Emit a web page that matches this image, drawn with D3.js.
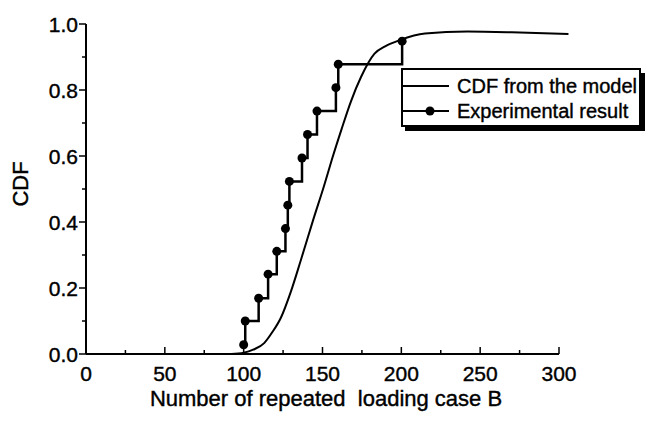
<!DOCTYPE html>
<html>
<head>
<meta charset="utf-8">
<script src="https://cdn.jsdelivr.net/npm/d3@7"></script>
<style>
  body { margin: 0; background: #fff; }
  text { font-family: "Liberation Sans", Arial, sans-serif; fill: #000; stroke: #000; stroke-width: 0.4px; }
</style>
</head>
<body>
<script>
const width = 645;
const height = 423;

// experimental result (step CDF)
const expX = [100, 101, 109.5, 115.5, 121, 126.5, 128, 129, 137, 140.5, 146.5, 158.5, 160, 200.5];
const expY = [0.028, 0.100, 0.169, 0.242, 0.311, 0.380, 0.451, 0.523, 0.594, 0.665, 0.736, 0.807, 0.878, 0.948];

// CDF from the model
const modelX = [92, 100, 106, 113, 118, 123.6, 130, 136.3, 144, 151, 156, 162, 168, 174.5, 183, 190, 199, 215, 242, 270, 306];
const modelY = [0, 0.004, 0.013, 0.033, 0.065, 0.11, 0.19, 0.285, 0.405, 0.51, 0.59, 0.68, 0.765, 0.84, 0.91, 0.933, 0.951, 0.971, 0.977, 0.975, 0.97];

const xTicks = [0, 50, 100, 150, 200, 250, 300];
const yTicks = [0, 0.2, 0.4, 0.6, 0.8, 1.0];
const legendLabels = ['CDF from the model', 'Experimental result'];

const svg = d3.select('body').append('svg').attr('width', width).attr('height', height);

const x = d3.scaleLinear().domain([0, 300]).range([86, 559]);
const y = d3.scaleLinear().domain([0, 1]).range([354, 24]);

// axes
const xAxis = svg.append('g').attr('transform', `translate(0,${y(0)})`);
xAxis.append('line').attr('x1', x(0)).attr('x2', x(300)).attr('stroke', '#000').attr('stroke-width', 2);
xAxis.selectAll('.minor').data(d3.range(25, 300, 50)).enter().append('line')
    .attr('x1', d => x(d)).attr('x2', d => x(d)).attr('y1', 0).attr('y2', -4)
    .attr('stroke', '#000').attr('stroke-width', 1.5);
xAxis.selectAll('.major').data(xTicks).enter().append('line')
    .attr('x1', d => x(d)).attr('x2', d => x(d)).attr('y1', 0).attr('y2', -7)
    .attr('stroke', '#000').attr('stroke-width', 1.5);
xAxis.selectAll('text').data(xTicks).enter().append('text')
    .attr('x', d => x(d)).attr('y', 27)
    .attr('text-anchor', 'middle').attr('font-size', 21)
    .text(d => d);

const yAxis = svg.append('g').attr('transform', `translate(${x(0)},0)`);
yAxis.append('line').attr('y1', y(0)).attr('y2', y(1)).attr('stroke', '#000').attr('stroke-width', 2);
yAxis.selectAll('.minor').data(d3.range(0.1, 1, 0.2)).enter().append('line')
    .attr('y1', d => y(d)).attr('y2', d => y(d)).attr('x1', 0).attr('x2', -4)
    .attr('stroke', '#000').attr('stroke-width', 1.5);
yAxis.selectAll('.major').data(yTicks).enter().append('line')
    .attr('y1', d => y(d)).attr('y2', d => y(d)).attr('x1', 0).attr('x2', -7)
    .attr('stroke', '#000').attr('stroke-width', 1.5);
yAxis.selectAll('text').data(yTicks).enter().append('text')
    .attr('x', -8).attr('y', d => y(d)).attr('dy', '0.36em')
    .attr('text-anchor', 'end').attr('font-size', 21)
    .text(d => d3.format('.1f')(d));

// axis titles
svg.append('text')
    .attr('transform', 'translate(28,184) rotate(-90)')
    .attr('text-anchor', 'middle').attr('font-size', 22)
    .text('CDF');

svg.append('text')
    .attr('x', 326).attr('y', 406)
    .attr('text-anchor', 'middle').attr('font-size', 22)
    .style('white-space', 'pre')
    .text('Number of repeated  loading case B');

// model curve
const model = modelX.map((d, i) => [d, modelY[i]]);
svg.append('path')
    .datum(model)
    .attr('fill', 'none').attr('stroke', '#000').attr('stroke-width', 2)
    .attr('d', d3.line().x(d => x(d[0])).y(d => y(d[1])).curve(d3.curveMonotoneX));

// experimental steps
const exp = expX.map((d, i) => [d, expY[i]]);
svg.append('path')
    .datum(exp)
    .attr('fill', 'none').attr('stroke', '#000').attr('stroke-width', 2.5)
    .attr('d', d3.line().x(d => x(d[0])).y(d => y(d[1])).curve(d3.curveStepAfter));
svg.selectAll('.pt').data(exp).enter().append('circle')
    .attr('cx', d => x(d[0])).attr('cy', d => y(d[1])).attr('r', 4.5)
    .attr('fill', '#000');

// legend
const legend = svg.append('g').attr('transform', 'translate(402,69)');
legend.append('rect').attr('x', 3).attr('y', 4).attr('width', 240).attr('height', 58).attr('fill', '#000');
legend.append('rect').attr('width', 238).attr('height', 57)
    .attr('fill', '#fff').attr('stroke', '#000').attr('stroke-width', 2);
legendLabels.forEach((label, i) => {
    const ly = 17 + i * 25;
    legend.append('line').attr('x1', 0).attr('x2', 47).attr('y1', ly).attr('y2', ly)
        .attr('stroke', '#000').attr('stroke-width', 2);
    if (i === 1) {
        legend.append('circle').attr('cx', 28).attr('cy', ly).attr('r', 4.5).attr('fill', '#000');
    }
    legend.append('text').attr('x', 55).attr('y', ly).attr('dy', '0.36em')
        .attr('font-size', 20).text(label);
});
</script>
</body>
</html>
